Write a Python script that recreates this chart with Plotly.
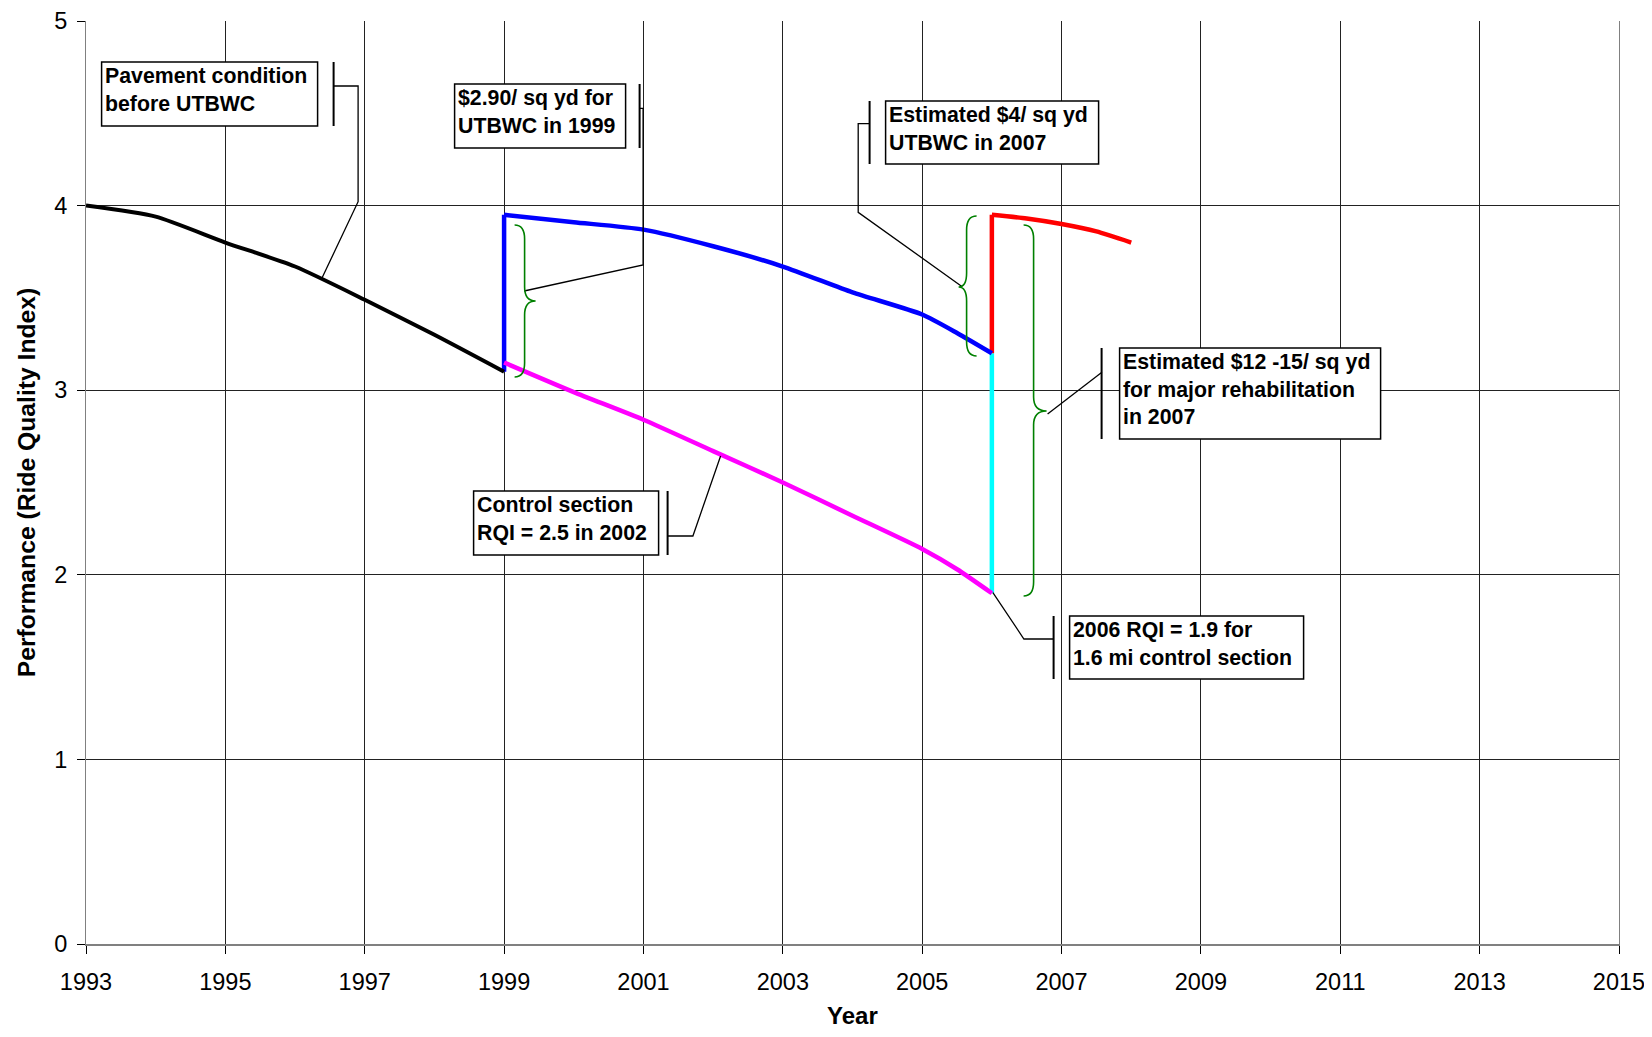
import plotly.graph_objects as go

# ---------------- data ----------------
years_before = [1993, 1994, 1995, 1996, 1997, 1998, 1999]
rqi_before = [4.00, 3.94, 3.80, 3.67, 3.49, 3.30, 3.10]

years_utbwc = [1999, 2000, 2001, 2002, 2003, 2004, 2005, 2005.5, 2006]
rqi_utbwc = [3.95, 3.91, 3.87, 3.78, 3.67, 3.53, 3.41, 3.31, 3.20]

years_control = [1999, 2000, 2001, 2002, 2003, 2004, 2005, 2005.5, 2006]
rqi_control = [3.15, 2.99, 2.84, 2.67, 2.50, 2.32, 2.14, 2.03, 1.90]

years_utbwc2 = [2006, 2006.5, 2007, 2007.5, 2008]
rqi_utbwc2 = [3.95, 3.93, 3.90, 3.86, 3.80]

x_ticks = list(range(1993, 2016, 2))
y_ticks = [0, 1, 2, 3, 4, 5]

# ---------------- layout geometry (page pixels) ----------------
BODY = 8                       # default body margin of the html page
W, H = 1652 - 2 * BODY, 1037 - 2 * BODY
PL, PR, PT, PB = 86.4, 1619.4, 21.0, 944.0   # plot area in page pixels
ML, MT = PL - BODY, PT - BODY
MR, MB = W - (PR - BODY), H - (PB - BODY)
X0, X1, Y0, Y1 = 1993, 2015, 0, 5


def dx(px):
    return X0 + (px - PL) / (PR - PL) * (X1 - X0)


def dy(py):
    return Y0 + (PB - py) / (PB - PT) * (Y1 - Y0)


def py_paper(py):
    return (PB - py) / (PB - PT)


fig = go.Figure()

# vertical jumps
fig.add_trace(go.Scatter(x=[years_utbwc[0], years_utbwc[0]], y=[rqi_before[-1], rqi_utbwc[0]],
                         mode="lines", line=dict(color="#0000ff", width=4.5), showlegend=False))
fig.add_trace(go.Scatter(x=[years_control[-1], years_control[-1]], y=[rqi_control[-1], rqi_utbwc[-1]],
                         mode="lines", line=dict(color="#00ffff", width=4.5), showlegend=False))
fig.add_trace(go.Scatter(x=[years_utbwc2[0], years_utbwc2[0]], y=[rqi_utbwc[-1], rqi_utbwc2[0]],
                         mode="lines", line=dict(color="#ff0000", width=4.5), showlegend=False))

fig.add_trace(go.Scatter(x=years_before, y=rqi_before, mode="lines",
                         line=dict(color="#000000", width=4, shape="spline", smoothing=0.6), showlegend=False))
fig.add_trace(go.Scatter(x=years_utbwc, y=rqi_utbwc, mode="lines",
                         line=dict(color="#0000ff", width=4.5, shape="spline", smoothing=0.6), showlegend=False))
fig.add_trace(go.Scatter(x=years_control, y=rqi_control, mode="lines",
                         line=dict(color="#ff00ff", width=4.5, shape="spline", smoothing=0.6), showlegend=False))
fig.add_trace(go.Scatter(x=years_utbwc2, y=rqi_utbwc2, mode="lines",
                         line=dict(color="#ff0000", width=4.5, shape="spline", smoothing=0.6), showlegend=False))

shapes = []
annotations = []

# callout boxes: (text, x0, y0, x1, y1) in page pixels
boxes = [
    ("Pavement condition<br>before UTBWC", 102, 62, 318, 126),
    ("$2.90/ sq yd for<br>UTBWC in 1999", 455, 84, 626, 148),
    ("Estimated $4/ sq yd<br>UTBWC in 2007", 886, 101, 1099, 164),
    ("Estimated $12 -15/ sq yd<br>for major rehabilitation<br>in 2007", 1120, 348, 1381, 439),
    ("Control section<br>RQI = 2.5 in 2002", 474, 491, 659, 555),
    ("2006 RQI = 1.9 for<br>1.6 mi control section", 1070, 616, 1304, 679),
]
for txt, a, b, c, d in boxes:
    shapes.append(dict(type="rect", xref="x", yref="y", x0=dx(a), x1=dx(c), y0=dy(b), y1=dy(d),
                       line=dict(color="black", width=1.5), fillcolor="white", layer="above"))
    annotations.append(dict(xref="x", yref="y", x=dx(a + 1), y=dy(b), text="<b>" + txt + "</b>",
                            showarrow=False, xanchor="left", yanchor="top", align="left",
                            font=dict(family="Liberation Sans, Arial", size=21.3, color="black")))

# x-axis title placed as an annotation
annotations.append(dict(xref="paper", yref="paper", x=0.5, y=py_paper(1015), text="<b>Year</b>",
                        showarrow=False, xanchor="center", yanchor="middle",
                        font=dict(family="Liberation Sans, Arial", size=24, color="black")))

# accent bars
bars = [(334, 62, 126), (640, 84, 148), (870, 101, 164), (1102, 348, 439), (668, 491, 555), (1054, 616, 679)]
for x, a, b in bars:
    shapes.append(dict(type="line", xref="x", yref="y", x0=dx(x), x1=dx(x), y0=dy(a), y1=dy(b),
                       line=dict(color="black", width=2), layer="above"))

# leader lines
leaders = [
    [(334, 86), (358.5, 86), (358.5, 201.7), (321.8, 279.3)],
    [(640, 108.3), (643.5, 108.3), (643.5, 265), (524.5, 291)],
    [(870, 123.7), (858.6, 123.7), (858.6, 212.3), (962.6, 286.7)],
    [(1102.3, 372.3), (1048, 414)],
    [(668, 536), (693.3, 536), (721, 456)],
    [(1054, 639), (1024.3, 639), (993.3, 592.7)],
]
for pts in leaders:
    path = "M " + " L ".join(f"{dx(px)},{dy(py)}" for px, py in pts)
    shapes.append(dict(type="path", xref="x", yref="y", path=path,
                       line=dict(color="black", width=1.3), layer="above"))


# green braces
def brace(e, b, t, top, mid, bot, r=14):
    P = lambda px, py: f"{dx(px)},{dy(py)}"
    return ("M " + P(e, top) + " Q " + P(b, top) + " " + P(b, top + r) +
            " L " + P(b, mid - r) + " Q " + P(b, mid) + " " + P(t, mid) +
            " Q " + P(b, mid) + " " + P(b, mid + r) +
            " L " + P(b, bot - r) + " Q " + P(b, bot) + " " + P(e, bot))


braces = [
    (515, 525, 536, 225, 301, 377),
    (977, 967, 959, 216, 287, 356),
    (1024, 1034, 1047, 225, 411, 596),
]
for br in braces:
    shapes.append(dict(type="path", xref="x", yref="y", path=brace(*br),
                       line=dict(color="#008000", width=1.6), layer="above"))

fig.update_layout(
    width=W, height=H,
    margin=dict(l=ML, r=MR, t=MT, b=MB, pad=0),
    paper_bgcolor="white", plot_bgcolor="white",
    font=dict(family="Liberation Sans, Arial", size=23, color="black"),
    shapes=shapes, annotations=annotations,
    showlegend=False,
)
fig.update_xaxes(range=[X0, X1], tickvals=x_ticks, ticktext=[str(v) for v in x_ticks],
                 automargin=False, ticklabeloverflow="allow", ticklabelstandoff=8,
                 showgrid=True, gridcolor="#222222", gridwidth=1,
                 showline=True, linecolor="#808080", linewidth=2,
                 ticks="outside", ticklen=8, tickcolor="black",
                 tickfont=dict(size=23.5), zeroline=False)
fig.update_yaxes(range=[Y0, Y1], tickvals=y_ticks,
                 automargin=False, ticklabeloverflow="allow", ticklabelstandoff=5,
                 showgrid=True, gridcolor="#222222", gridwidth=1,
                 showline=True, linecolor="#808080", linewidth=1, mirror=True,
                 ticks="outside", ticklen=8, tickcolor="black",
                 tickfont=dict(size=23.5), zeroline=False,
                 title=dict(text="<b>Performance (Ride Quality Index)</b>", font=dict(size=24.7), standoff=11))

fig.write_html("out.html")
